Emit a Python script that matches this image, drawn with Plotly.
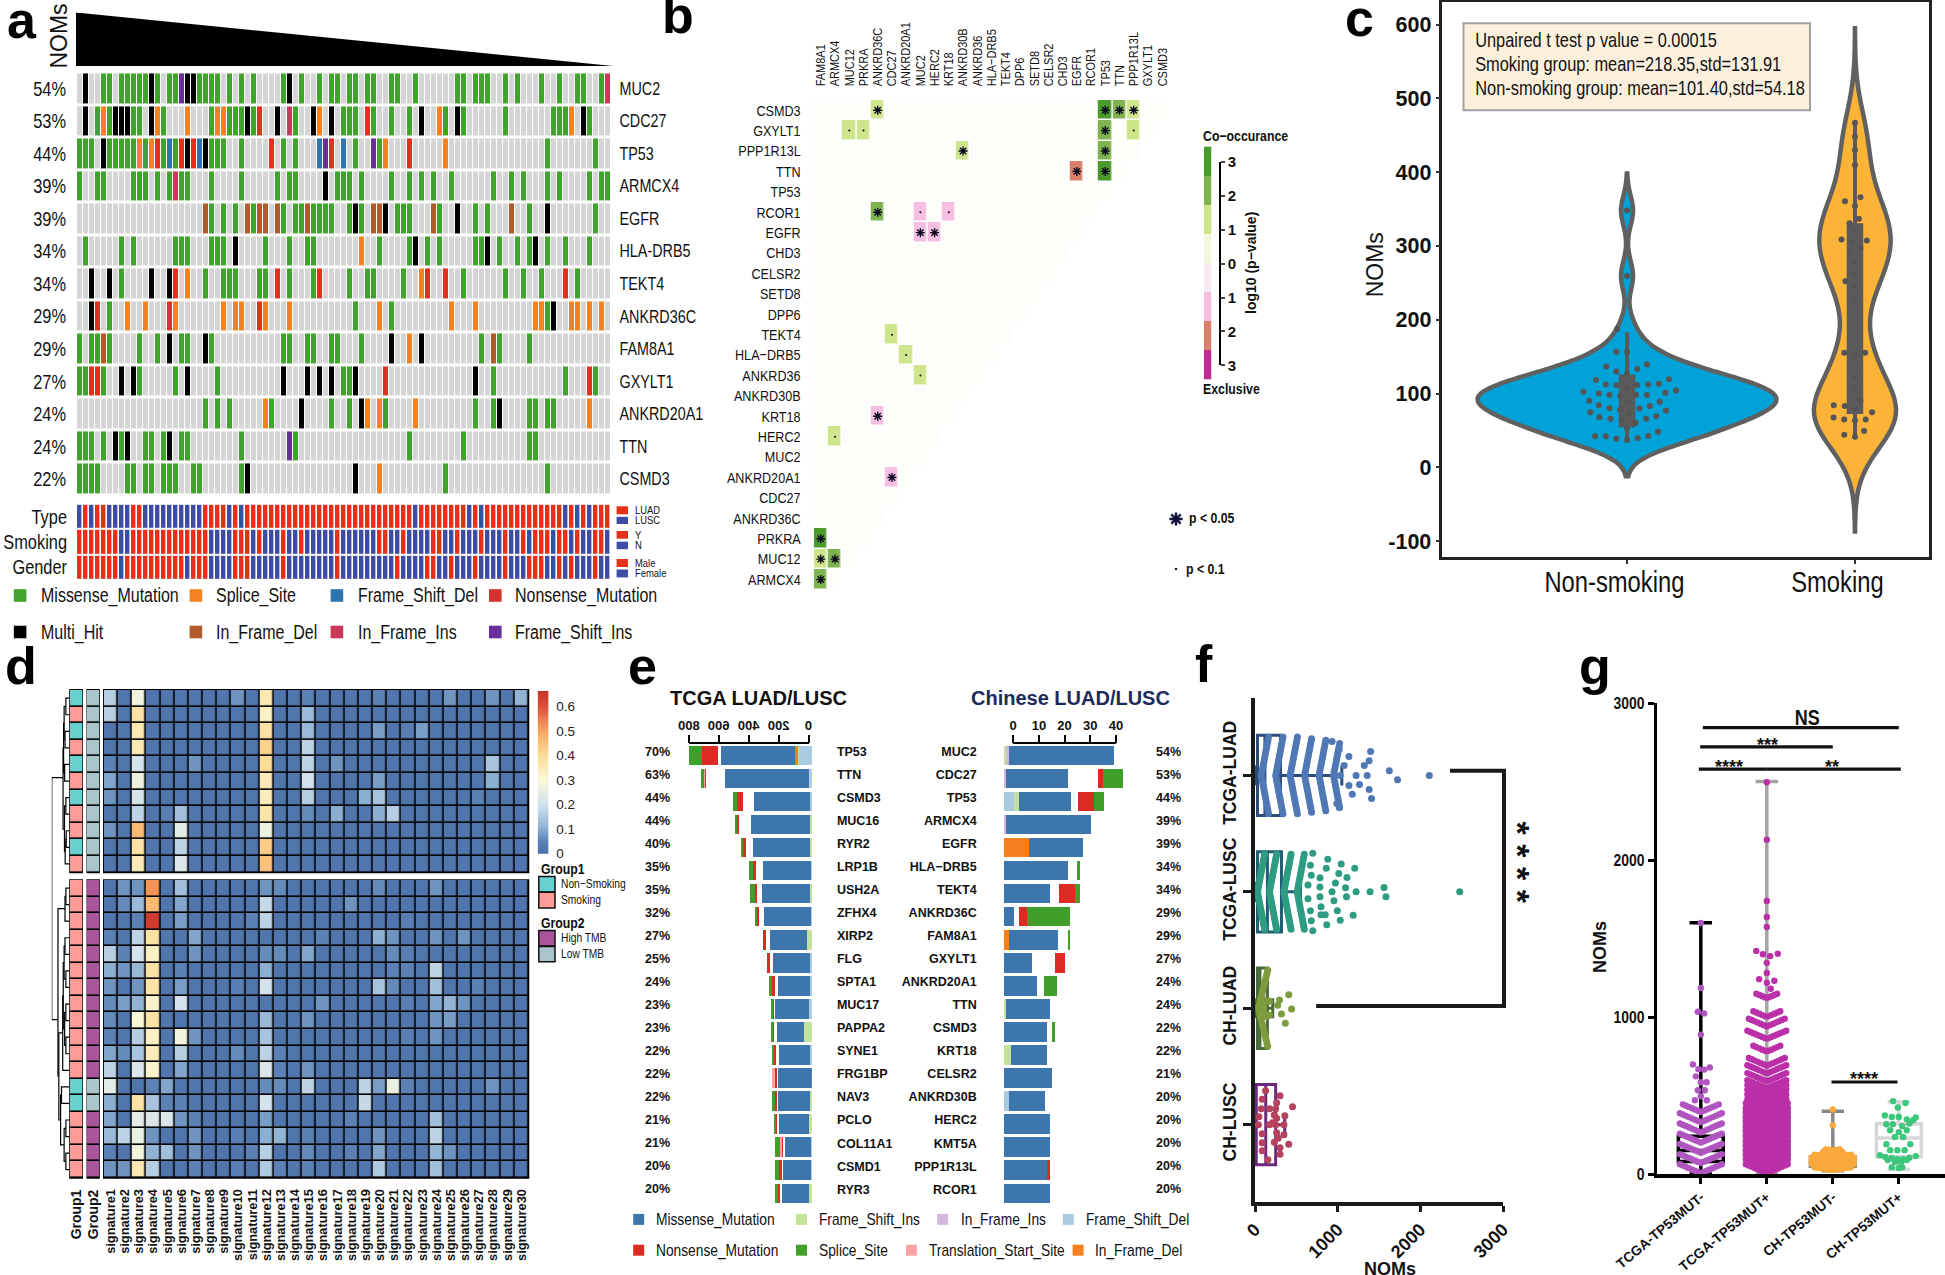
import plotly.graph_objects as go

W, H = 1945, 1275
SANS = 'Liberation Sans'
NAR = 'Liberation Sans, NarrowA'

# ---------- panel a data ----------
onco_genes = ['MUC2','CDC27','TP53','ARMCX4','EGFR','HLA-DRB5','TEKT4','ANKRD36C','FAM8A1','GXYLT1','ANKRD20A1','TTN','CSMD3']
onco_pct = ['54%','53%','44%','39%','39%','34%','34%','29%','29%','27%','24%','24%','22%']
onco_cols = 89
# 1 missense 2 splice 3 fs_del 4 nonsense 5 multi 6 in_del 7 in_ins 8 fs_ins
onco_muc2 = {1:[4,5,7,8,9,10,11,13,15,16,20,21,22,23,25,27,29,34,37,40,42,43,45,46,48,49,52,53,56,63,64,66,67,68,71,73,77,80,83,84,87],5:[1,12,18,19,35],8:[17],7:[88]}
onco_cdc27 = {1:[3,5,9,10,14,22,25,26,27,29,36,44,45,46,49,52,55,61,64,71,79,80,81,85],2:[4,13,18,23,24,40,60,82],5:[1,6,7,8,12,28,33,39,42,57,63,84],4:[30,48],7:[35]}
onco_tp53 = {1:[0,1,2,5,6,7,8,9,11,14,16,22,23,24,27,34,36,46,50,78,86],5:[4,18,21],2:[10,12,51,61],4:[13,17,19,32,42,55],3:[15,20,40,44],8:[41,49]}
onco_armcx4 = {1:[0,3,4,9,10,11,13,15,17,18,22,27,33,35,36,43,44,45,47,52,55,57,59,62,69,72,74,78,80,85,87,88],7:[16],5:[41]}
onco_egfr = {6:[21,28,30,31,33,38,49,50,59,72],1:[22,24,26,29,34,36,37,39,40,41,42,45,47,53,54,55,60,66,68,75,86],5:[46,51,63,78]}
onco_hla = {1:[1,7,9,16,17,18,22,23,24,31,35,38,39,50,55,58,60,66,67,70,73,75,78,81,85],5:[26,56,68,76],2:[47]}
onco_tekt4 = {5:[2,5,12,15],1:[7,21,24,25,26,30,31,35,39,45,48,49,54,64,71,74,77,83],4:[16,33,40,58,61,81],2:[18,57]}
onco_ankrd36c = {5:[2,79],4:[3,15,30],1:[5,46,52,78],2:[8,11,16,24,26,27,31,35,50,62,66,76,77,82,83,85,87]}
onco_fam8a1 = {1:[0,2,3,5,10,13,17,18,22,34,35,38,39,42,43,47,67,70,75],6:[4,69],5:[15,21,52,57],2:[55]}
onco_gxylt1 = {1:[0,1,4,10,16,23,44,45,69,81,86],4:[2,3,51,85],5:[7,9,18,34,38,40,42,46,66]}
onco_ankrd20a1 = {1:[21,23,25,32,42,45,51,66,69,75,76,78,79],2:[31,48,50,56,85],5:[37,47,70]}
onco_ttn = {1:[0,1,2,4,7,11,12,14,17,18,27,36,55,64,75,76],5:[6,8,15],8:[35]}
onco_csmd3 = {1:[0,1,2,3,8,9,11,12,14,15,16,19,20,27,61,78],5:[28,46],2:[50]}
onco_rows = [onco_muc2,onco_cdc27,onco_tp53,onco_armcx4,onco_egfr,onco_hla,onco_tekt4,onco_ankrd36c,onco_fam8a1,onco_gxylt1,onco_ankrd20a1,onco_ttn,onco_csmd3]
onco_colors = ['#D5D5D5','#3FA32C','#F58220','#2E75AE','#E1301E','#000000','#B25B2A','#C93A5A','#6A2E9A']
track_type = 'BRBRRBBBBRR'+'B'*10+'RRRRBRBR'+'R'*27+'B'+'R'*8+'B'+'R'+'B'+'R'*13+'BRBRBRRR'
track_smoke = 'R'*7+'BB'+'R'*13+'BBBB'+'RRR'+'BRBBBRBBRBBBBBRBB'[:15]+'BBBBBB'+'RR'+'BB'+'R'+'BBBB'+'RR'+'BB'+'R'+'BBB'+'R'+'BBB'+'R'+'BB'+'R'+'B'+'RRR'+'B'+'RR'+'B'+'R'+'BB'+'RR'+'BBB'
track_gender = 'R'*7+'B'+'R'*10+'B'+'RRR'+'BBBB'+'RRR'+'BBBBBRBBBBBBBBRBB'[:15]+'BBBBBBBBB'+'R'+'BBBB'+'RR'+'BB'+'R'+'BBB'+'R'+'BBBB'+'R'+'BBB'+'RRR'+'BB'+'R'+'B'+'R'+'BBB'+'R'+'BBB'

# ---------- panel b data ----------
cooc_cols = ['FAM8A1','ARMCX4','MUC12','PRKRA','ANKRD36C','CDC27','ANKRD20A1','MUC2','HERC2','KRT18','ANKRD30B','ANKRD36','HLA\u2212DRB5','TEKT4','DPP6','SETD8','CELSR2','CHD3','EGFR','RCOR1','TP53','TTN','PPP1R13L','GXYLT1','CSMD3']
cooc_rows = ['CSMD3','GXYLT1','PPP1R13L','TTN','TP53','RCOR1','EGFR','CHD3','CELSR2','SETD8','DPP6','TEKT4','HLA\u2212DRB5','ANKRD36','ANKRD30B','KRT18','HERC2','MUC2','ANKRD20A1','CDC27','ANKRD36C','PRKRA','MUC12','ARMCX4']
cooc_cells = [('CSMD3','ANKRD36C',1.1,'*'),('CSMD3','TP53',2.9,'*'),('CSMD3','TTN',1.9,'*'),('CSMD3','PPP1R13L',1.1,'*'),
 ('GXYLT1','MUC12',1.1,'.'),('GXYLT1','PRKRA',1.1,'.'),('GXYLT1','TP53',1.9,'*'),('GXYLT1','PPP1R13L',1.1,'.'),
 ('PPP1R13L','ANKRD30B',1.1,'*'),('PPP1R13L','TP53',1.9,'*'),('TTN','EGFR',-2.0,'*'),('TTN','TP53',2.9,'*'),
 ('RCOR1','ANKRD36C',2.5,'*'),('RCOR1','MUC2',-1.1,'.'),('RCOR1','KRT18',-1.1,'.'),('EGFR','MUC2',-1.1,'*'),('EGFR','HERC2',-1.1,'*'),
 ('TEKT4','CDC27',1.1,'.'),('HLA\u2212DRB5','ANKRD20A1',1.1,'.'),('ANKRD36','MUC2',1.1,'.'),('KRT18','ANKRD36C',-1.1,'*'),
 ('HERC2','ARMCX4',1.1,'.'),('ANKRD20A1','CDC27',-1.1,'*'),('PRKRA','FAM8A1',2.9,'*'),('MUC12','FAM8A1',1.1,'*'),('MUC12','ARMCX4',2.5,'*'),('ARMCX4','FAM8A1',1.9,'*')]
cooc_bands = ['#C22C8F','#D97F6B','#F6BEE0','#F8E8F4','#F2F7DD','#CFE58C','#7FB34F','#4B9B2B']

# ---------- panel c data ----------
ns_vals = [187.5,156.5,156.5,136.6,130,133.3,139.4,118.4,112.3,111.2,111.7,112.3,113.4,119.5,127.2,102.3,100.1,97.9,96.8,97.9,97.9,101.2,104,107.9,90.2,84.1,80.2,78,79.6,83,89,88.5,74.7,68,65.8,64.7,60.3,65.8,69.1,76.9,73.6,42,42,38.7,37,39.3,42.6,48.1,52.5,347.9,259.4]
ns_offs = [-.044,-.047,0,-.091,-.047,.045,.087,-.136,-.093,-.047,.045,.093,.14,.184,0,-.192,-.124,-.077,-.031,.04,.087,.168,.215,0,-.166,-.124,-.077,-.031,.054,.1,.143,0,-.161,-.121,-.072,-.024,.038,.084,.128,.171,.009,-.14,-.093,-.047,0,.047,.093,.136,0,0,0]
sm_vals = [467,448,429.8,409.8,366,360.6,354,336.8,330.8,319.7,308.6,307.5,304.8,297,290.4,277.7,261.6,252.2,245.6,225.7,155.4,155.4,152.1,123.3,107.9,90.7,84.1,83,80.2,74.7,67.5,64.7,63.6,64.7,49.2,44.2,41.5]
sm_offs = [0,0,0,0,.024,-.044,0,.017,-.024,0,-.059,.052,-.012,.024,-.021,0,0,-.042,0,0,-.047,.045,0,0,0,.024,-.093,-.045,0,.075,-.094,-.047,0,.047,.04,-.047,0]
c_q1, c_med, c_q3, c_lo, c_hi = [57,75],[88,200],[123,328],[35,40],[183,466]

# ---------- panel d data ----------
sig_names = ['signature%d' % i for i in range(1,31)]
sig_base = 0.02
upper_cells = [
 {1:.16,3:.28,10:.07,12:.36,15:.05,20:.05,25:.07,28:.07,30:.11},{1:.16,3:.38,12:.33,15:.12},
 {3:.36,12:.38,15:.12,20:.08,22:.04,23:.08},{3:.36,12:.42,15:.17},
 {1:.05,3:.2,7:.07,12:.4,15:.17,17:.07,28:.14},{1:.09,3:.27,12:.35,15:.2,20:.08,28:.1},
 {1:.07,3:.21,12:.34,15:.16,19:.1,20:.14,27:.05},{3:.17,5:.04,6:.13,12:.37,15:.06,17:.1,20:.1,21:.16},
 {1:.07,3:.46,6:.24,12:.27},{3:.38,6:.17,12:.43},{3:.35,6:.22,12:.45}]
lower_cells = [
 {2:.07,3:.07,4:.52,6:.13,12:.07,13:.06,20:.06,24:.07},{2:.06,3:.12,4:.46,6:.09,12:.18,18:.07},
 {3:.05,4:.64,6:.08,11:.05,12:.17,22:.04},{1:.05,3:.17,4:.38,7:.09,16:.05,20:.1,21:.07,24:.07,26:.07},
 {1:.16,2:.05,3:.2,4:.33,7:.07,12:.06,13:.06,15:.09,21:.06,22:.04},{1:.1,2:.07,3:.12,4:.38,6:.05,12:.1,21:.05,22:.05,24:.17},
 {1:.07,3:.07,4:.37,6:.08,10:.04,12:.2,20:.14,21:.06,24:.13,27:.05},{1:.06,2:.08,3:.11,4:.32,6:.2,16:.07,22:.04,24:.09,25:.11,26:.07},
 {1:.06,3:.3,4:.38,12:.12,15:.07,24:.07,25:.08},{1:.05,3:.16,4:.33,6:.28,7:.07,12:.14,22:.04,24:.07},
 {1:.09,2:.06,3:.14,4:.35,6:.16,10:.06,12:.17,13:.05},{1:.17,3:.22,4:.32,6:.09,12:.22,13:.05,15:.07},
 {1:.24,3:.02,4:.05,5:.09,12:.06,13:.06,15:.17,19:.17,20:.08,21:.26,22:.05,28:.07},{1:.1,3:.38,4:.14,5:.05,6:.05,12:.2,19:.18},
 {1:.09,3:.24,4:.22,5:.22,6:.07,7:.05,12:.08,18:.05,24:.13},{1:.12,2:.17,3:.26,4:.07,7:.07,10:.04,12:.1,13:.11,15:.05,20:.07,24:.17},
 {1:.05,3:.28,4:.11,5:.13,7:.07,11:.05,12:.16,15:.06,18:.05,20:.09,24:.11,25:.07},{1:.07,2:.07,3:.36,4:.16,7:.05,10:.04,12:.15,13:.05,15:.05,20:.15,24:.13}]
upper_group1 = [1,0,1,0,1,0,1,0,0,1,0]
lower_group1 = [0]*12+[1,1]+[0]*4
lower_group2 = [1]*12+[0,0]+[1]*4
dendro_merges = [(.2,0,1,0,0),(.25,2,3,0,0),(.27,4,5,0,0),(.3,.5,2.5,.2,.25),(.33,1.5,4.5,.3,.27),(.2,6,7,0,0),(.18,8,9,0,0),(.24,8.5,10,.18,0),(.28,6.5,9.25,.2,.24),(.36,3,7.9,.33,.28),
 (.2,11.46,12.46,0,0),(.25,11.96,13.46,.2,0),(.25,14.46,15.46,0,0),(.2,16.46,17.46,0,0),(.3,14.96,16.96,.25,.2),(.2,18.46,19.46,0,0),(.2,20.46,21.46,0,0),(.27,18.96,20.96,.2,.2),(.35,15.96,19.96,.3,.27),(.38,17.96,22.46,.35,0),
 (.45,23.46,24.46,0,0),(.2,25.46,26.46,0,0),(.2,27.46,28.46,0,0),(.3,25.96,27.96,.2,.2),(.5,23.96,26.96,.45,.3),(.6,20.2,25.46,.38,.5),(.65,12.7,22.8,.25,.6),(1.0,4.8,19.4,.36,.65)]
d_bar_levels = [i*0.00662 for i in range(101)]

# ---------- panel e data ----------
mut_colors = {'Frame_Shift_Del':'#A9CBE0','Frame_Shift_Ins':'#C3E29A','In_Frame_Ins':'#D3B8DE','In_Frame_Del':'#F57F1F','Missense_Mutation':'#3C76AD','gap':'rgba(0,0,0,0)','Nonsense_Mutation':'#DB2B22','Translation_Start_Site':'#FBA3A3','Splice_Site':'#3F9F2A'}
tcga_genes = ['TP53','TTN','CSMD3','MUC16','RYR2','LRP1B','USH2A','ZFHX4','XIRP2','FLG','SPTA1','MUC17','PAPPA2','SYNE1','FRG1BP','NAV3','PCLO','COL11A1','CSMD1','RYR3']
tcga_pct = ['70%','63%','44%','44%','40%','35%','35%','32%','27%','25%','24%','23%','23%','22%','22%','22%','21%','21%','20%','20%']
tcga_fsdel = [85,18,12,5,0,5,5,5,0,10,10,18,0,13,0,0,0,8,5,0]
tcga_fsins = [15,3,0,8,12,0,8,0,35,0,0,0,50,0,0,15,18,0,0,18]
tcga_ifd = [12,0,0,0,0,0,0,0,0,0,0,0,0,0,0,0,0,0,0,0]
tcga_mis = [495,558,372,397,385,320,322,317,244,249,219,229,184,206,229,211,201,174,189,184]
tcga_gap = [20,133,78,75,53,50,38,30,28,20,20,10,23,20,5,13,18,20,13,20]
tcga_non = [110,7,40,23,8,18,10,23,18,18,15,13,8,18,15,10,8,5,10,5]
tcga_tss = [0,10,0,0,0,0,0,0,0,0,0,0,0,0,15,0,0,8,0,0]
tcga_spl = [85,10,25,8,15,28,28,3,0,0,23,5,8,10,0,18,10,33,28,20]
cn_genes = ['MUC2','CDC27','TP53','ARMCX4','EGFR','HLA\u2212DRB5','TEKT4','ANKRD36C','FAM8A1','GXYLT1','ANKRD20A1','TTN','CSMD3','KRT18','CELSR2','ANKRD30B','HERC2','KMT5A','PPP1R13L','RCOR1']
cn_pct = ['54%','53%','44%','39%','39%','34%','34%','29%','29%','27%','24%','24%','22%','22%','21%','20%','20%','20%','20%','20%']
cn_fsdel = [0,0,4,0,0,0,0,0,0,0,0,0,0,0,0,2,0,0,0,0]
cn_fsins = [1,0,2,0,0,0,0,0,0,0,0,1,0,3,0,0,0,0,0,0]
cn_ins = [1,1,0,1,0,0,0,0,0,0,0,0,0,0,0,0,0,0,0,0]
cn_ifd = [0,0,0,0,10,0,0,0,2,0,0,0,0,0,0,0,0,0,0,0]
cn_mis = [41,24,20.4,33,21,25,18,4,19,11,13,17,17,14,19,14,18,18,17,18]
cn_gap = [0,11.6,2.6,0,0,3.7,3.7,2,4,8.8,2.8,0,1.9,0,0,0,0,0,0,0]
cn_non = [0,2,6,0,0,0,6,3,0,4,0,0,0,0,0,0,0,0,1,0]
cn_spl = [0,8,4,0,0,1,2,17,1,0,5,0,1,0,0,0,0,0,0,0]

# ---------- panel f data ----------
f_labels = ['TCGA-LUAD','TCGA-LUSC','CH-LUAD','CH-LUSC']
f_luad_levels, f_luad_counts = [76,250,425,600,775,950], [25,25,25,24,23,21]
f_luad_xv = [1136,1078,1223,1357,1031,1264,1136,1177,1381,1410,1322,1381,1398,1625,1724,2109,1019,990,1019,932]
f_luad_xo = [-19,-10,0,0,0,9,10,18.7,14,23,-10,-14.7,-24,-4.8,4.4,0,-26,28,32,-34]
f_lusc_levels, f_lusc_counts = [30,175,350,510], [26,26,26,26]
f_lusc_xv = [699,699,670,681,641,641,670,681,786,786,786,798,798,880,862,850,868,1043,1014,973,932,955,996,1031,1206,1113,1095,1107,1188,1223,1392,1561,1584,2476]
f_lusc_xo = [-38.7,39,-26.7,-16.7,-6.8,7,19,29,-14,-4.8,5,15,23,-32.7,-23.5,23,33,-27.9,-18.3,-8.8,0,9,19,28.3,-23.5,-14.3,-4,5,23.5,0,0,-4.4,5,0]
f_chl_levels, f_chl_counts = [40,100], [24,6]
f_chl_xv = [408,297,274,443,320,367,175,175]
f_chl_xo = [-13.6,-8.4,-3,.8,5.6,15,-7,7]
f_chs_xv = [128,303,87,262,454,76,250,47,233,361,41,250,350,175,87,262,350,87,280,408,87,303,303,157,233,175,215,262]
f_chs_xo = [-34,-29,-25.5,-22,-18,-16,-16,-8,-9.6,-9,0,0,0,0,9,8,10,18,13.5,19.5,26,23,29.5,35,17.5,-16,-2,-6.4]
f_q1, f_med, f_q3, f_lo, f_hi = [30,30,30,15],[120,150,60,130],[309,320,150,250],[0,0,0,0],[1050,550,215,360]

# ---------- panel g data ----------
g_labels = ['TCGA-TP53MUT-','TCGA-TP53MUT+','CH-TP53MUT-','CH-TP53MUT+']
g_neg_levels = [5,70,135,200,265,330,395]
g_neg_counts = [15,15,15,15,15,15,13]
g_neg_xv = [1599,1185,1033,1023,888,698,667,665,678,622,584,584,533,533,495,470,470]
g_neg_xo = [0,0,-3,3.4,0,-8,-2.4,3.4,9,-5,0,5.8,-3,4,0,-6,6]
g_pos_levels = [5,35,65,95,125,155,185,215,245,275,305,335,365,395,425,455,485,515,545,590,640,690,780,860,940,1000,1120]
g_pos_counts = [15,15,15,15,15,15,15,15,15,15,15,15,15,15,14,14,14,14,14,14,14,13,10,14,13,10,8]
g_pos_xv = [1421,1400,1388,1403,1345,1281,1241,1218,1231,1180,1739,1637,1573,2129,2495]
g_pos_xo = [-10.6,-3.9,3.4,11,0,0,-7.7,0,7.5,4,0,0,0,0,0]
g_cn_levels = [25,45,65,85,105,130,150]
g_cn_counts = [14,16,16,16,14,8,6]
g_cn_xv = [411,310]
g_cn_xo = [0,0]
g_cp_xv = [464,452,424,373,363,363,348,360,317,317,305,322,343,279,267,279,236,236,190,190,152,152,152,119,109,102,94,94,104,114,89,76,76,89,43,43,38]
g_cp_xo = [-5.8,6.7,-1,-14,-7,0,8,17,-12.5,-6,3.4,10.6,14.4,-8.7,0,8,-3.9,4.3,11.5,-12.5,-1.4,5.8,-8.7,-19,-13.5,-7,-1.4,4.3,10.6,17,-11,-3.9,2.4,8,-7,3.4,0]
g_q1, g_med, g_q3, g_lo, g_hi = [80,100,50,110],[150,220,80,230],[240,410,110,320],[0,0,20,30],[1600,2500,400,460]

# ---------- helpers ----------
traces, shapes, annots = [], [], []
layout = dict(width=W, height=H, margin=dict(l=0,r=0,t=0,b=0), autosize=False, showlegend=False,
              paper_bgcolor='white', plot_bgcolor='rgba(0,0,0,0)', barmode='stack', bargap=0.16)
axn = [0]
HID = dict(visible=False, showgrid=False, zeroline=False, automargin=False)
NOTICK = dict(ticks='outside', tickcolor='rgba(0,0,0,0)', showline=False, showgrid=False, zeroline=False)

def axes(px, py, xo=None, yo=None):
    axn[0] += 1
    n = axn[0]
    xa = dict(HID); xa.update(domain=[px[0]/W, px[1]/W], anchor='y%d' % n)
    ya = dict(HID); ya.update(domain=[1-py[1]/H, 1-py[0]/H], anchor='x%d' % n)
    if xo: xa.update(xo)
    if yo: ya.update(yo)
    layout['xaxis%d' % n] = xa
    layout['yaxis%d' % n] = ya
    return 'x%d' % n, 'y%d' % n

# one full-page axes measured in reference pixels, carries the loose texts
pxa, pya = axes((0,W),(0,H), dict(range=[0,W]), dict(range=[H,0]))

def T(x, y, s, size=14, anchor='left', bold=False, angle=0, narrow=True, color='#111111'):
    fam = SANS
    if narrow:
        fam = 'Liberation Sans, Narrow' + {'left':'L','center':'C','right':'R'}[anchor]
    annots.append(dict(xref=pxa, yref=pya, x=x, y=y, text=s,
        showarrow=False, xanchor=anchor, yanchor='middle', textangle=angle,
        font=dict(family=fam, size=size, color=color, weight=700 if bold else 400)))

def R(x0, y0, x1, y1, fill, line=None, lw=0, layer='above'):
    shapes.append(dict(type='rect', xref='paper', yref='paper', x0=x0/W, x1=x1/W, y0=1-y0/H, y1=1-y1/H,
        fillcolor=fill, line=dict(color=line or fill, width=lw), layer=layer))

def steps(colors):
    n = len(colors); out = []
    for i, c in enumerate(colors):
        out += [[i/n, c], [(i+1)/n, c]]
    return out

def swarm(levels, counts, spacing, slope):
    vals, offs = [], []
    for lv, c in zip(levels, counts):
        for i in range(c):
            o = (i-(c-1)/2)*spacing
            vals.append(lv+slope*abs(o)); offs.append(o)
    return vals, offs

BOLD = lambda size, fam=SANS: dict(family=fam, size=size, color='#111', weight=700)

# panel letters
for s, x, y in [('a',21.5,20),('b',678,15),('c',1359,18),('d',21,666),('e',642,666),('f',1203.5,664),('g',1595,666)]:
    T(x, y, s, size=52, anchor='center', bold=True, narrow=False, color='#000000')

# ---------- panel a ----------
xa, ya = axes((76,613),(12.6,66), dict(range=[0,89.7]), dict(range=[0,100]))
traces.append(go.Scatter(x=[0,89.7,0,0], y=[100,0,0,100], fill='toself', fillcolor='black', mode='lines', line=dict(width=0,color='black'), xaxis=xa, yaxis=ya, hoverinfo='skip'))
T(58.8, 35.8, 'NOMs', size=23, anchor='center', angle=-90, narrow=False)

onco_z = []
for row in onco_rows:
    z = [0]*onco_cols
    for code, cols in row.items():
        for c in cols:
            z[c] = code
    onco_z.append(z)
yo = dict(NOTICK); yo.update(visible=True, type='category', range=[12.5,-.5], side='right', ticklen=4, tickfont=dict(family=NAR,size=17.5,color='#111'))
xa, ya = axes((77,611),(72.4,495.4), dict(range=[-.5,88.5]), yo)
traces.append(go.Heatmap(z=onco_z, y=onco_genes, x=list(range(onco_cols)), colorscale=steps(onco_colors), zmin=-.5, zmax=8.5, showscale=False, xgap=1, ygap=3, hoverinfo='skip', xaxis=xa, yaxis=ya))
for i, p in enumerate(onco_pct):
    T(67.5, 72.4+32.54*(i+.5), p, size=20, anchor='right')

enc = lambda s: [1 if ch == 'R' else 0 for ch in (s+'B'*89)[:89]]
yo = dict(NOTICK); yo.update(visible=True, type='category', range=[2.5,-.5], ticklen=5, tickfont=dict(family=NAR,size=20,color='#111'))
xa, ya = axes((77,611),(503.8,580), dict(range=[-.5,88.5]), yo)
traces.append(go.Heatmap(z=[enc(track_type),enc(track_smoke),enc(track_gender)], y=['Type','Smoking','Gender'], x=list(range(onco_cols)),
    colorscale=steps(['#3F4CA5','#E5301A']), zmin=-.5, zmax=1.5, showscale=False, xgap=1.6, ygap=2, hoverinfo='skip', xaxis=xa, yaxis=ya))
for lab, y0, y1, c in [('LUAD',506.3,514.3,'#E5301A'),('LUSC',516.8,524,'#3F4CA5'),('Y',531,538.7,'#E5301A'),('N',541.7,549.2,'#3F4CA5'),('Male',559,567,'#E5301A'),('Female',569.5,577.4,'#3F4CA5')]:
    R(616.6,y0,628,y1,c)
    T(632.7,(y0+y1)/2,lab,size=11.5)
a_leg = [('Missense_Mutation',13.8,38.6,595.5,'#3FA32C'),('Splice_Site',189.6,213.5,595.5,'#F58220'),('Frame_Shift_Del',330.6,355.8,595.5,'#2E75AE'),('Nonsense_Mutation',489,513.3,595.5,'#D6322D'),
         ('Multi_Hit',13.8,38.6,632,'#000000'),('In_Frame_Del',189.6,213.5,632,'#B25B2A'),('In_Frame_Ins',330.6,355.8,632,'#C93A5A'),('Frame_Shift_Ins',489,513.3,632,'#6A2E9A')]
for lab, sx, tx, y, c in a_leg:
    R(sx,y-6.3,sx+12.6,y+6.3,c)
    T(tx,y,lab,size=19.5)

# ---------- panel b ----------
ri = {r:i for i,r in enumerate(cooc_rows)}; ci = {c:i for i,c in enumerate(cooc_cols)}
cooc_z = [[0 if j < 25-i else None for j in range(25)] for i in range(24)]
for r,c,v,s in cooc_cells:
    cooc_z[ri[r]][ci[c]] = v
b_bands = list(cooc_bands); b_bands[3] = '#FDFDFA'; b_bands[4] = '#FDFDFA'
xo = dict(NOTICK); xo.update(visible=True, type='category', side='top', categoryorder='array', categoryarray=cooc_cols, tickangle=-90, ticklen=10, tickfont=dict(family=NAR,size=13.4,color='#111'), range=[-.5,24.5], tickmode='array', tickvals=cooc_cols, ticktext=cooc_cols)
yo = dict(NOTICK); yo.update(visible=True, type='category', categoryorder='array', categoryarray=cooc_rows, ticklen=9, tickfont=dict(family=NAR,size=15.4,color='#111'), range=[23.5,-.5], tickmode='array', tickvals=cooc_rows, ticktext=cooc_rows)
xa, ya = axes((813.7,1169.3),(100,589.7), xo, yo)
traces.append(go.Heatmap(z=cooc_z, x=cooc_cols, y=cooc_rows, colorscale=steps(b_bands), zmin=-3.44, zmax=3.44, showscale=False, xgap=1.5, ygap=1.5, hoverinfo='skip', xaxis=xa, yaxis=ya))
star = [(c,r) for r,c,v,s in cooc_cells if s == '*']
dot = [(c,r) for r,c,v,s in cooc_cells if s == '.']
traces.append(go.Scatter(x=[p[0] for p in star], y=[p[1] for p in star], mode='markers', marker=dict(symbol='asterisk-open', size=7.5, color='#0A0A20', line=dict(width=1.4,color='#0A0A20')), xaxis=xa, yaxis=ya, hoverinfo='skip'))
traces.append(go.Scatter(x=[p[0] for p in dot], y=[p[1] for p in dot], mode='markers', marker=dict(symbol='circle', size=2, color='#0A0A20'), xaxis=xa, yaxis=ya, hoverinfo='skip'))
xa, ya = axes((1203.8,1211.3),(146.5,379.6), None, dict(range=[-.5,7.5]))
traces.append(go.Heatmap(z=[[i] for i in range(8)], colorscale=steps(cooc_bands), zmin=-.5, zmax=7.5, showscale=False, hoverinfo='skip', xaxis=xa, yaxis=ya))
xa, ya = axes((1203.8,1219),(162,365.3), dict(range=[0,1]),
    dict(visible=True, range=[-3,3], side='right', tickmode='array', tickvals=[3,2,1,0,-1,-2,-3], ticktext=['3','2','1','0','1','2','3'], showline=True, linecolor='black', linewidth=1.5, ticks='outside', ticklen=4, tickwidth=1.5, tickfont=BOLD(15), showgrid=False, zeroline=False))
traces.append(go.Scatter(x=[0], y=[0], mode='markers', marker=dict(opacity=0), xaxis=xa, yaxis=ya, hoverinfo='skip'))
T(1201,135.5,'Co\u2212occurance',size=15,bold=True)
T(1201,388,'Exclusive',size=15,bold=True)
T(1251,263,'log10 (p\u2212value)',size=14,anchor='center',bold=True,angle=-90,narrow=False)
T(1187,517,'p &lt; 0.05',size=15,bold=True)
T(1184,568,'p &lt; 0.1',size=15,bold=True)
traces.append(go.Scatter(x=[1176], y=[519], mode='markers', marker=dict(symbol='asterisk-open', size=11, color='#11113A', line=dict(width=2.4,color='#11113A')), xaxis=pxa, yaxis=pya, hoverinfo='skip'))
traces.append(go.Scatter(x=[1176], y=[569], mode='markers', marker=dict(symbol='circle', size=2.5, color='#11113A'), xaxis=pxa, yaxis=pya, hoverinfo='skip'))

# ---------- panel c ----------
xa, ya = axes((1442.4,1928.6),(2,557),
    dict(visible=True, range=[-.81,1.323], tickmode='array', tickvals=[0,1], ticktext=['',''], showline=True, mirror=True, linecolor='#222', linewidth=2.5, ticks='outside', ticklen=4, tickwidth=1.5, tickcolor='#333', showgrid=False, zeroline=False),
    dict(visible=True, range=[-121.5,630.5], tickmode='array', tickvals=[-100,0,100,200,300,400,500,600], ticktext=['-100','0','100','200','300','400','500','600'], showline=True, mirror=True, linecolor='#222', linewidth=2.5, ticks='outside', ticklen=4, tickwidth=1.5, tickcolor='#333', tickfont=BOLD(21.5), showgrid=False, zeroline=False))
traces.append(go.Violin(y=ns_vals, x0=0, width=1.31, scalemode='width', spanmode='manual', span=[-12,398], bandwidth=20, points=False, fillcolor='#00A2D8', line=dict(color='#606060',width=4.5), meanline=dict(visible=False), xaxis=xa, yaxis=ya, hoverinfo='skip'))
traces.append(go.Violin(y=sm_vals, x0=1, width=0.36, scalemode='width', spanmode='manual', span=[-87,595], bandwidth=42, points=False, fillcolor='#FDB338', line=dict(color='#606060',width=4.5), meanline=dict(visible=False), xaxis=xa, yaxis=ya, hoverinfo='skip'))
for i in range(2):
    traces.append(go.Box(x=[i], q1=[c_q1[i]], median=[c_med[i]], q3=[c_q3[i]], lowerfence=[c_lo[i]], upperfence=[c_hi[i]], width=.055, whiskerwidth=0, line=dict(color='#5A5A5A',width=4), fillcolor='#5A5A5A', boxpoints=False, xaxis=xa, yaxis=ya, hoverinfo='skip'))
traces.append(go.Scatter(x=ns_offs, y=ns_vals, mode='markers', marker=dict(size=6,color='#555555'), xaxis=xa, yaxis=ya, hoverinfo='skip'))
traces.append(go.Scatter(x=[1+o for o in sm_offs], y=sm_vals, mode='markers', marker=dict(size=6,color='#555555'), xaxis=xa, yaxis=ya, hoverinfo='skip'))
R(1463.5,23.3,1810,110.2,'#FCF0DD','#A0A0A0',2)
T(1473.4,39.6,'Unpaired t test p value = 0.00015',size=20)
T(1473.4,63.7,'Smoking group: mean=218.35,std=131.91',size=20)
T(1473.4,87.8,'Non-smoking group: mean=101.40,std=54.18',size=20)
T(1614,581.6,'Non-smoking',size=29,anchor='center')
T(1837,581.6,'Smoking',size=29,anchor='center')
T(1375,265.3,'NOMs',size=23,anchor='center',angle=-90,narrow=False)

# ---------- panel d ----------
d_scale = [[0,'#4A6EA9'],[.05/.662,'#5C82B5'],[.1/.662,'#8BAFD1'],[.2/.662,'#D3E2EE'],[.3/.662,'#F8F8D8'],[.4/.662,'#FDDC95'],[.5/.662,'#F9A45E'],[.6/.662,'#DC4E38'],[1,'#C8312A']]
def matrix(cells):
    return [[c.get(j+1, sig_base) for j in range(30)] for c in cells]
upper_z, lower_z = matrix(upper_cells), matrix(lower_cells)
for (y0,y1) in [(689.9,872.4),(880,1178)]:
    R(103,y0-.8,529.3,y1+.8,'#000000',layer='below')
    R(69.2,y0-.8,83,y1+.8,'#000000',layer='below')
    R(86.5,y0-.8,99.8,y1+.8,'#000000',layer='below')
xa, ya = axes((103.7,528.6),(689.9,872.4), dict(range=[-.5,29.5]), dict(range=[10.5,-.5]))
traces.append(go.Heatmap(z=upper_z, colorscale=d_scale, zmin=0, zmax=.662, xgap=1.6, ygap=1.6, showscale=False, hoverinfo='skip', xaxis=xa, yaxis=ya))
yo = dict(NOTICK); yo.update(visible=True, range=[0,.662], side='right', tickmode='array', tickvals=[0,.1,.2,.3,.4,.5,.6], ticktext=['0','0.1','0.2','0.3','0.4','0.5','0.6'], ticklen=4, tickfont=dict(family=SANS,size=13.5,color='#222'))
xa, ya = axes((537.6,548.6),(691,853.7), dict(range=[-.5,.5]), yo)
traces.append(go.Heatmap(z=[[v] for v in d_bar_levels], y=d_bar_levels, colorscale=d_scale, zmin=0, zmax=.662, showscale=False, hoverinfo='skip', xaxis=xa, yaxis=ya))
xo = dict(NOTICK); xo.update(visible=True, type='category', tickangle=-90, ticklen=5, tickfont=BOLD(12.8), range=[-.5,29.5], tickmode='array', tickvals=sig_names, ticktext=sig_names)
xa, ya = axes((103.7,528.6),(880,1178), xo, dict(range=[17.5,-.5]))
traces.append(go.Heatmap(z=lower_z, x=sig_names, colorscale=d_scale, zmin=0, zmax=.662, showscale=False, xgap=1.6, ygap=1.6, hoverinfo='skip', xaxis=xa, yaxis=ya))
g1c = steps(['#FF9C97','#66D1CF']); g2c = steps(['#A9C4CA','#A9559B'])
for px,cs,zu,zl,lab in [((69.8,82.4),g1c,upper_group1,lower_group1,'Group1'),((87,99.2),g2c,[0]*11,lower_group2,'Group2')]:
    xa, ya = axes(px,(689.9,872.4),None,dict(range=[10.5,-.5]))
    traces.append(go.Heatmap(z=[[v] for v in zu], colorscale=cs, zmin=-.5, zmax=1.5, showscale=False, ygap=1.6, hoverinfo='skip', xaxis=xa, yaxis=ya))
    xo = dict(NOTICK); xo.update(visible=True, type='category', tickangle=-90, ticklen=5, tickfont=BOLD(14))
    xa, ya = axes(px,(880,1178), xo, dict(range=[17.5,-.5]))
    traces.append(go.Heatmap(z=[[v] for v in zl], x=[lab], colorscale=cs, zmin=-.5, zmax=1.5, showscale=False, ygap=1.6, hoverinfo='skip', xaxis=xa, yaxis=ya))
dx, dy = [], []
for h, r0, r1, h0, h1 in dendro_merges:
    dx += [h0,h,h,h1,None]; dy += [r0,r0,r1,r1,None]
xa, ya = axes((51.8,69.4),(689.9,1178), dict(range=[1,0]), dict(range=[28.96,-.5]))
traces.append(go.Scatter(x=dx, y=dy, mode='lines', line=dict(color='black',width=1.2), xaxis=xa, yaxis=ya, hoverinfo='skip'))
T(538.8,868.8,'Group1',size=15,bold=True)
T(538.8,922.6,'Group2',size=15,bold=True)
for y0,y1,c,lab in [(876.4,891.9,'#66D1CF','Non\u2212Smoking'),(892.3,907.9,'#FF9C97','Smoking'),(930.6,946,'#A9559B','High TMB'),(946.5,961.7,'#A9C4CA','Low TMB')]:
    R(538.8,y0,555,y1,c,'#111111',1.5)
    T(559,(y0+y1)/2,lab,size=12.5)

# ---------- panel e ----------
def bars(xa, ya, genes, series):
    for name, vals in series:
        traces.append(go.Bar(y=genes, x=vals, orientation='h', marker=dict(color=mut_colors[name],line=dict(width=0)), xaxis=xa, yaxis=ya, hoverinfo='skip'))
def ytick(tl):
    d = dict(NOTICK); d.update(visible=True, type='category', categoryorder='array', range=[19.5,-.5], ticklen=tl, tickfont=BOLD(12.5), ticklabelshift=4)
    return d
yo = ytick(21.5); yo.update(side='right', categoryarray=tcga_genes)
xa, ya = axes((688.5,811.9),(744.1,1204.7), dict(range=[825,0]), yo)
bars(xa, ya, tcga_genes, [('Frame_Shift_Del',tcga_fsdel),('Frame_Shift_Ins',tcga_fsins),('In_Frame_Del',tcga_ifd),('Missense_Mutation',tcga_mis),('gap',tcga_gap),('Nonsense_Mutation',tcga_non),('Translation_Start_Site',tcga_tss),('Splice_Site',tcga_spl)])
axis_tick = dict(visible=True, side='top', anchor='free', showline=True, linecolor='black', linewidth=1.5, ticks='outside', ticklen=7.5, tickwidth=1.5, tickcolor='black', tickfont=BOLD(13), position=1-743.3/H, showgrid=False, zeroline=False)
o = dict(axis_tick); o.update(range=[800,0], tickvals=[800,600,400,200,0])
tx, ty = axes((688.8,808.5),(735,750), o, dict(range=[0,1]))
mirror_axis = tx
traces.append(go.Scatter(x=[0], y=[0], mode='markers', marker=dict(opacity=0), xaxis=tx, yaxis=ty, hoverinfo='skip'))
yo = ytick(23.5); yo.update(categoryarray=cn_genes)
xa, ya = axes((1003.7,1124.9),(744.1,1204.7), dict(range=[0,47.2]), yo)
bars(xa, ya, cn_genes, [('Frame_Shift_Del',cn_fsdel),('Frame_Shift_Ins',cn_fsins),('In_Frame_Ins',cn_ins),('In_Frame_Del',cn_ifd),('Missense_Mutation',cn_mis),('gap',cn_gap),('Nonsense_Mutation',cn_non),('Splice_Site',cn_spl)])
o = dict(axis_tick); o.update(range=[0,40], tickvals=[0,10,20,30,40])
tx2, ty2 = axes((1013.2,1115.9),(735,750), o, dict(range=[0,1]))
traces.append(go.Scatter(x=[0], y=[0], mode='markers', marker=dict(opacity=0), xaxis=tx2, yaxis=ty2, hoverinfo='skip'))
for i in range(20):
    y = 751.6+23.03*i
    T(643.3,y,tcga_pct[i],size=12.5,bold=True,narrow=False)
    T(1153.5,y,cn_pct[i],size=12.5,bold=True,narrow=False)
T(758,698,'TCGA LUAD/LUSC',size=20,anchor='center',bold=True,narrow=False)
T(1070.3,698,'Chinese LUAD/LUSC',size=20,anchor='center',bold=True,narrow=False,color='#1C2A5C')
e_leg = [('Missense_Mutation',633.2,653.9,1219.4,'#3C76AD'),('Frame_Shift_Ins',796,817.1,1219.4,'#C3E29A'),('In_Frame_Ins',937.2,958.6,1219.4,'#D3B8DE'),('Frame_Shift_Del',1062.8,1084.3,1219.4,'#A9CBE0'),
         ('Nonsense_Mutation',633.2,653.9,1250.2,'#DB2B22'),('Splice_Site',796,817.1,1250.2,'#3F9F2A'),('Translation_Start_Site',905.9,927,1250.2,'#FBA3A3'),('In_Frame_Del',1072.6,1093.3,1250.2,'#F57F1F')]
for lab,sx,tx_,y,c in e_leg:
    R(sx,y-5.5,sx+11,y+5.5,c)
    T(tx_,y,lab,size=16.8)

# ---------- panel f ----------
xa, ya = axes((1255,1503),(697.8,1202),
    dict(visible=True, range=[0,3000], tickvals=[0,1000,2000,3000], tickangle=-45, showline=True, linecolor='#1a1a1a', linewidth=4, ticks='outside', ticklen=6, tickwidth=3, tickcolor='#1a1a1a', tickfont=BOLD(18), showgrid=False, zeroline=False),
    dict(visible=True, range=[3.664,-.667], tickmode='array', tickvals=[0,1,2,3], ticktext=f_labels, tickangle=-90, showline=True, linecolor='#1a1a1a', linewidth=4, ticks='outside', ticklen=8, tickwidth=3, tickcolor='#1a1a1a', tickfont=BOLD(17.5), showgrid=False, zeroline=False))
f_line = ['#2C4B78','#1F5F73','#4A6B3C','#6B2A7B']
f_dot = ['#4F78B5','#2E9C82','#7E9B3E','#B5425E']
for i in range(4):
    traces.append(go.Box(orientation='h', y=[i], q1=[f_q1[i]], median=[f_med[i]], q3=[f_q3[i]], lowerfence=[f_lo[i]], upperfence=[f_hi[i]], width=.69, whiskerwidth=.25,
        line=dict(color=f_line[i],width=3), fillcolor='rgba(0,0,0,0)', boxpoints=False, xaxis=xa, yaxis=ya, hoverinfo='skip'))
v1,o1 = swarm(f_luad_levels,f_luad_counts,3.2,2.3)
v2,o2 = swarm(f_lusc_levels,f_lusc_counts,3.0,2.3)
v3,o3 = swarm(f_chl_levels,f_chl_counts,3.3,3)
groups = [(v1+f_luad_xv,o1+f_luad_xo),(v2+f_lusc_xv,o2+f_lusc_xo),(v3+f_chl_xv,o3+f_chl_xo),(f_chs_xv,f_chs_xo)]
for i,(v,o) in enumerate(groups):
    traces.append(go.Scatter(x=v, y=[i+q/116.4 for q in o], mode='markers', marker=dict(size=7,color=f_dot[i]), xaxis=xa, yaxis=ya, hoverinfo='skip', cliponaxis=False))
f_px = lambda v: 1255+v*248/3000
traces.append(go.Scatter(x=[f_px(2359),f_px(3012),f_px(3012),f_px(740)], y=[770.8,770.8,1005.9,1005.9], mode='lines', line=dict(color='#1a1a1a',width=4), xaxis=pxa, yaxis=pya, hoverinfo='skip'))
T(1518,862.6,'* * * *',size=34,anchor='center',bold=True,angle=90,narrow=False)
T(1390,1268.6,'NOMs',size=18,anchor='center',bold=True,narrow=False)

# ---------- panel g ----------
xa, ya = axes((1657,1945),(703,1174),
    dict(visible=True, range=[-.664,3.70], tickmode='array', tickvals=[0,1,2,3], ticktext=g_labels, tickangle=-40, showline=True, linecolor='black', linewidth=4, ticks='outside', ticklen=6, tickwidth=3, tickcolor='black', tickfont=BOLD(13.7), showgrid=False, zeroline=False),
    dict(visible=True, range=[0,3000], tickvals=[0,1000,2000,3000], showline=True, linecolor='black', linewidth=3, ticks='outside', ticklen=6, tickwidth=3, tickcolor='black', tickfont=BOLD(17,NAR), showgrid=False, zeroline=False))
g_line = ['#000000','#A5A5A5','#888888','#D8D8D8']
g_dot = ['#B055C0','#BB2FA9','#F9A93B','#3CC77C']
for i in range(4):
    traces.append(go.Box(x=[i], q1=[g_q1[i]], median=[g_med[i]], q3=[g_q3[i]], lowerfence=[g_lo[i]], upperfence=[g_hi[i]], width=.68, whiskerwidth=.5,
        line=dict(color=g_line[i],width=3.5), fillcolor='rgba(0,0,0,0)', boxpoints=False, xaxis=xa, yaxis=ya, hoverinfo='skip'))
v1,o1 = swarm(g_neg_levels,g_neg_counts,3.0,2.7)
v2,o2 = swarm(g_pos_levels,g_pos_counts,3.0,2.7)
v3,o3 = swarm(g_cn_levels,g_cn_counts,2.8,1)
gg = [(v1+g_neg_xv,o1+g_neg_xo),(v2+g_pos_xv,o2+g_pos_xo),(v3+g_cn_xv,o3+g_cn_xo),(g_cp_xv,g_cp_xo)]
for i,(v,o) in enumerate(gg):
    traces.append(go.Scatter(x=[i+q/66.2 for q in o], y=v, mode='markers', marker=dict(size=6.4,color=g_dot[i]), xaxis=xa, yaxis=ya, hoverinfo='skip', cliponaxis=False))
g_brackets = [(.03,3.0,2843),(-.01,2.0,2721),(-.03,1.0,2579),(1.0,3.03,2579),(1.98,2.98,586)]
for x0,x1,v in g_brackets:
    traces.append(go.Scatter(x=[x0,x1], y=[v,v], mode='lines', line=dict(color='#111',width=3.2), xaxis=xa, yaxis=ya, hoverinfo='skip'))
T(1807.5,717.7,'NS',size=22,anchor='center',bold=True)
T(1767,745,'***',size=18,anchor='center',bold=True,narrow=False)
T(1729,767,'****',size=18,anchor='center',bold=True,narrow=False)
T(1832,767,'**',size=18,anchor='center',bold=True,narrow=False)
T(1863.5,1079,'****',size=18,anchor='center',bold=True,narrow=False)
T(1600,947,'NOMs',size=18,anchor='center',bold=True,angle=-90,narrow=False)

layout['shapes'] = shapes
layout['annotations'] = annots
fig = go.Figure(data=traces, layout=layout)
post = """
document.body.style.margin='0';
var gd=document.getElementById('{plot_id}');
gd.querySelectorAll('g.AXIStick text').forEach(function(t){
  var x=+t.getAttribute('x')||0;
  var tr=t.getAttribute('transform')||'';
  t.setAttribute('transform',tr+' translate('+(2*x)+',0) scale(-1,1)');
});
gd.querySelectorAll('text').forEach(function(t){
  var f=t.style.fontFamily||''; var m=f.match(/Narrow([LCRA])/); if(!m) return;
  var b=t.getBBox(); var k=m[1];
  if(k=='A'){var a=t.getAttribute('text-anchor')||t.style.textAnchor; k=a=='start'?'L':(a=='end'?'R':'C');}
  var p=k=='L'?b.x:(k=='R'?b.x+b.width:b.x+b.width/2);
  var tr=t.getAttribute('transform')||'';
  t.setAttribute('transform',tr+' translate('+p+',0) scale(0.82,1) translate('+(-p)+',0)');
});
""".replace('AXIS', mirror_axis)
fig.write_html('out.html', post_script=post, config={'displayModeBar':False})
